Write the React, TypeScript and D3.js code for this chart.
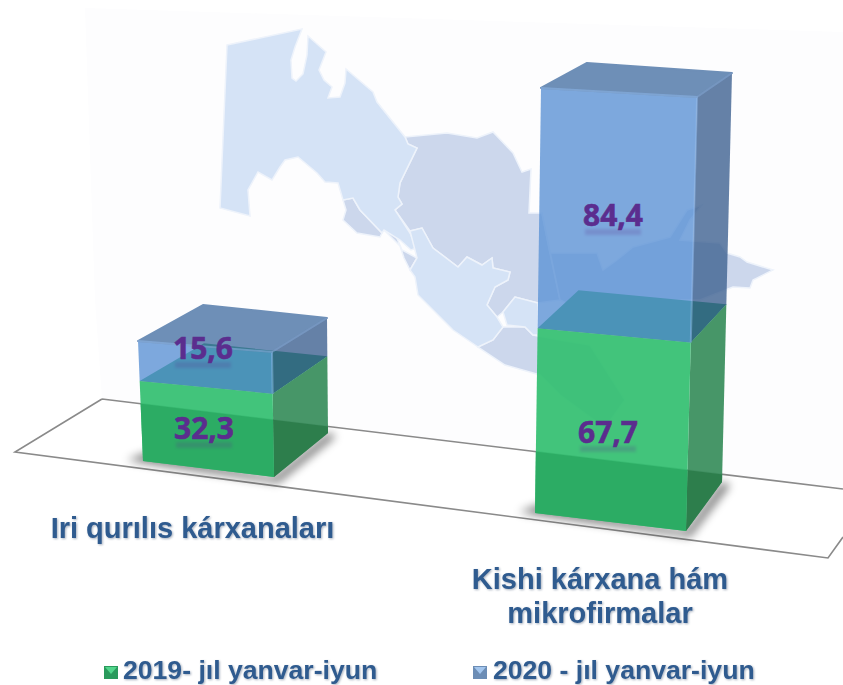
import { useRef, useEffect } from 'react';
import * as d3 from 'd3';

const width = 843;
const height = 685;

const categoryLines = [['Iri qurılıs kárxanaları'], ['Kishi kárxana hám', 'mikrofirmalar']];
const values2019 = [32.3, 67.7];
const values2020 = [15.6, 84.4];
const seriesNames = ['2019- jıl yanvar-iyun', '2020 - jıl yanvar-iyun'];

type P = [number, number];

// where each bar's corners land on the page: at value 0 and at the top of the stack
const barFrames: Record<string, [P, P]>[] = [
  {
    fl: [[143, 461], [138, 341]],
    fr: [[274, 477], [272, 352]],
    br: [[328, 433], [327, 318]],
    bl: [[206, 420], [203, 305]],
  },
  {
    fl: [[535, 513], [541, 88]],
    fr: [[686, 531], [697, 97]],
    br: [[722, 482], [732, 73]],
    bl: [[572, 465], [587, 63]],
  },
];

const labelPos = [
  { x: 192.5, y: [538], lowX: 204, lowY: 439, highX: 203, highY: 359 },
  { x: 600, y: [589, 623], lowX: 608, lowY: 443, highX: 613, highY: 226 },
];

// background picture: map of the regions, traced by hand
const mapLight: P[][] = [
  [[227, 45], [302, 29], [295, 47], [291, 60], [292, 78], [296, 81], [303, 74], [307, 55], [308, 36], [326, 52], [319, 70], [324, 80], [332, 87], [328, 98], [340, 97], [345, 83], [346, 69], [373, 92], [377, 102], [405, 137], [408, 144], [417, 148], [400, 183], [398, 197], [402, 204], [395, 210], [410, 233], [417, 248], [411, 250], [400, 240], [384, 230], [382, 233], [360, 210], [353, 198], [343, 200], [338, 183], [325, 182], [317, 173], [298, 157], [285, 160], [280, 167], [272, 180], [258, 172], [248, 190], [250, 216], [220, 208]],
  [[410, 231], [422, 228], [433, 248], [458, 267], [467, 257], [482, 265], [492, 258], [493, 268], [510, 272], [508, 280], [495, 287], [487, 305], [497, 317], [503, 327], [493, 340], [478, 347], [453, 330], [418, 295], [415, 277], [410, 270], [417, 258]],
  [[503, 312], [515, 297], [538, 303], [538, 335], [533, 335], [525, 327], [507, 325]],
];

const mapDark: P[][] = [
  [[405, 137], [447, 133], [477, 138], [493, 132], [513, 153], [522, 172], [531, 169], [529, 213], [542, 213], [550, 253], [560, 300], [538, 303], [515, 297], [503, 312], [497, 317], [487, 305], [495, 287], [508, 280], [510, 272], [493, 268], [492, 258], [482, 265], [467, 257], [458, 267], [433, 248], [422, 228], [410, 231], [395, 210], [402, 204], [398, 197], [400, 183], [417, 148], [408, 144]],
  [[343, 200], [353, 198], [360, 210], [382, 233], [380, 237], [357, 233], [343, 220], [346, 210]],
  [[384, 230], [396, 236], [402, 250], [417, 258], [410, 270], [404, 258], [400, 246]],
  [[478, 347], [493, 340], [503, 327], [525, 327], [533, 335], [560, 340], [590, 345], [625, 400], [605, 428], [560, 395], [540, 375], [505, 365]],
  [[542, 213], [550, 253], [597, 253], [603, 270], [617, 260], [633, 247], [670, 237], [687, 210], [702, 205], [690, 220], [680, 240], [720, 243], [727, 253], [740, 257], [747, 262], [773, 270], [753, 280], [750, 288], [733, 287], [700, 300], [640, 300], [600, 320], [560, 300]],
];

const floor: P[] = [[102, 399], [843, 489], [843, 537], [828, 558], [15, 452]];

function App() {
  const svgRef = useRef<SVGSVGElement>(null);

  useEffect(() => {
    const svg = d3.select(svgRef.current);
    svg.selectAll('*').remove();

    const line = d3.line<P>();
    const closed = (pts: P[]) => `${line(pts)}Z`;

    const defs = svg.append('defs');
    defs.append('filter').attr('id', 'blur').attr('x', '-30%').attr('y', '-30%').attr('width', '160%').attr('height', '160%')
      .append('feGaussianBlur').attr('stdDeviation', 5);
    defs.append('filter').attr('id', 'soft')
      .append('feGaussianBlur').attr('stdDeviation', 0.5);
    defs.append('filter').attr('id', 'mirror').attr('x', '-20%').attr('y', '-100%').attr('width', '140%').attr('height', '300%')
      .append('feGaussianBlur').attr('stdDeviation', 1.5);
    defs.append('clipPath').attr('id', 'floorClip')
      .append('path').attr('d', closed([[102, 399], [843, 489], [843, 700], [0, 700], [15, 452]]));

    // near-white panel behind the map
    svg.append('path')
      .attr('d', closed([[85, 8], [843, 32], [843, 489], [102, 399], [95, 300]]))
      .attr('fill', '#fdfdfe');

    const mapG = svg.append('g').attr('filter', 'url(#soft)');
    mapG.selectAll('path.dark').data(mapDark).enter().append('path')
      .attr('class', 'dark')
      .attr('d', closed)
      .attr('fill', '#ccd7ec')
      .attr('stroke', '#eef3fb')
      .attr('stroke-width', 1.5);
    mapG.selectAll('path.light').data(mapLight).enter().append('path')
      .attr('class', 'light')
      .attr('d', closed)
      .attr('fill', '#d5e3f6')
      .attr('stroke', '#eef3fb')
      .attr('stroke-width', 1.5);

    // floor of the 3D chart
    svg.append('path')
      .attr('d', `${line(floor.slice(0, 2))}M${floor[2]}L${floor[3]}L${floor[4]}L${floor[0]}`)
      .attr('fill', 'none')
      .attr('stroke', '#8a8a8a')
      .attr('stroke-width', 1.6);

    const stacked = d3.stack<number>()
      .keys(['a', 'b'])
      .value((i, key) => (key === 'a' ? values2019[i] : values2020[i]))(d3.range(values2019.length));

    values2019.forEach((_, i) => {
      const total = values2019[i] + values2020[i];
      const frame = barFrames[i];
      const corner = (name: string, v: number): P => {
        const [low, high] = frame[name];
        const t = d3.scalePow().exponent(1.03).domain([0, total]).range([0, 1])(v);
        return [d3.interpolateNumber(low[0], high[0])(t), d3.interpolateNumber(low[1], high[1])(t)];
      };
      const g = svg.append('g');
      const v0 = stacked[0][i][0];
      const v1 = stacked[0][i][1];
      const v2 = stacked[1][i][1];

      // shadow on the floor
      const fl = corner('fl', v0);
      const fr = corner('fr', v0);
      const br = corner('br', v0);
      g.append('path')
        .attr('d', closed([[fl[0] + 4, fl[1] - 8], fr, br, [br[0] + 8, br[1] + 3], [fr[0] + 4, fr[1] + 6], [fl[0] - 16, fl[1] - 1]]))
        .attr('fill', '#000')
        .attr('opacity', 0.55)
        .attr('filter', 'url(#blur)');

      const face = (a: string, b: string, lo: number, hi: number) =>
        closed([corner(a, lo), corner(b, lo), corner(b, hi), corner(a, hi)]);

      // green block, darker where it stands in front of the floor
      g.append('path').attr('d', face('fr', 'br', v0, v1)).attr('fill', '#3d9060').attr('opacity', 0.95);
      g.append('path').attr('d', face('fl', 'fr', v0, v1)).attr('fill', '#34bf71').attr('opacity', 0.93);
      const lower = g.append('g').attr('clip-path', 'url(#floorClip)');
      lower.append('path').attr('d', face('fr', 'br', v0, v1)).attr('fill', '#2c7c4b').attr('opacity', 0.95);
      lower.append('path').attr('d', face('fl', 'fr', v0, v1)).attr('fill', '#2bab63').attr('opacity', 0.95);
      g.append('path')
        .attr('d', closed([corner('fl', v1), corner('fr', v1), corner('br', v1), corner('bl', v1)]))
        .attr('fill', '#009141');

      // blue block, see-through
      const blue = g.append('g').attr('opacity', 0.8);
      blue.append('path').attr('d', face('fl', 'fr', v1, v2)).attr('fill', '#5e94d6');
      blue.append('path').attr('d', face('fr', 'br', v1, v2)).attr('fill', '#406392');
      blue.append('path')
        .attr('d', closed([corner('fl', v2), corner('fr', v2), corner('br', v2), corner('bl', v2)]))
        .attr('fill', '#4b74a6')
        .attr('stroke', '#4b74a6')
        .attr('stroke-width', 2)
        .attr('stroke-linejoin', 'round');

      // bevel highlights
      g.append('path')
        .attr('d', line([corner('fl', v2), corner('fr', v2), corner('fr', v1)]))
        .attr('fill', 'none')
        .attr('stroke', '#8db7ea')
        .attr('stroke-width', 2)
        .attr('opacity', 0.55);
      g.append('path')
        .attr('d', line([corner('fr', v2), corner('br', v2)]))
        .attr('fill', 'none')
        .attr('stroke', '#7d9ec9')
        .attr('stroke-width', 2)
        .attr('opacity', 0.5);

      const pos = labelPos[i];
      [
        { text: values2019[i], x: pos.lowX, y: pos.lowY },
        { text: values2020[i], x: pos.highX, y: pos.highY },
      ].forEach(d => {
        const label = d3.format('.1f')(d.text).replace('.', ',');
        // faint smear standing in for the number's reflection
        g.append('rect')
          .attr('x', d.x - 28)
          .attr('y', d.y + 3)
          .attr('width', 56)
          .attr('height', 6)
          .attr('fill', '#5b2d8e')
          .attr('opacity', 0.2)
          .attr('filter', 'url(#mirror)');
        g.append('text')
          .attr('x', d.x)
          .attr('y', d.y)
          .attr('text-anchor', 'middle')
          .style('font-family', 'Open Sans')
          .style('font-weight', 700)
          .style('font-size', '30px')
          .attr('fill', '#5b2d8e')
          .attr('stroke', '#5b2d8e')
          .attr('stroke-width', 0.6)
          .text(label);
      });

      categoryLines[i].forEach((t, k) => {
        svg.append('text')
          .attr('x', pos.x)
          .attr('y', pos.y[k])
          .attr('text-anchor', 'middle')
          .style('font-family', 'Liberation Sans')
          .style('font-weight', 700)
          .style('font-size', '29px')
          .style('filter', 'drop-shadow(1px 1px 1px rgba(60,80,110,0.45))')
          .attr('fill', '#2f5b8f')
          .text(t);
      });
    });

    // legend
    const legendX = [104, 473];
    seriesNames.forEach((name, i) => {
      const g = svg.append('g').attr('transform', `translate(${legendX[i]},666)`);
      g.append('rect').attr('width', 14).attr('height', 13).attr('fill', i === 0 ? '#2a9a5c' : '#6c8db5');
      g.append('path')
        .attr('d', closed([[1, 1], [13, 1], [7, 8]]))
        .attr('fill', i === 0 ? '#52d68c' : '#a3c6ee');
      g.append('text')
        .attr('x', i === 0 ? 19 : 20)
        .attr('y', 13)
        .style('font-family', 'Liberation Sans')
        .style('font-weight', 700)
        .style('font-size', '26.6px')
        .style('filter', 'drop-shadow(1px 1px 1px rgba(60,80,110,0.45))')
        .attr('fill', '#2f5b8f')
        .text(name);
    });
  }, []);

  return (
    <svg
      ref={svgRef}
      width={width}
      height={height}
      viewBox={`0 0 ${width} ${height}`}
      style={{ position: 'absolute', left: 0, top: 0, background: '#fff' }}
    />
  );
}

export default App;
